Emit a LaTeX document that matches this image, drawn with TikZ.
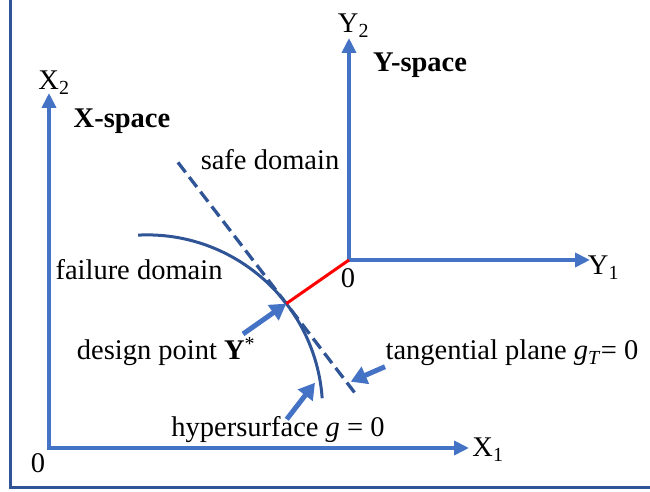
\documentclass[tikz,border=0pt]{standalone}
\usepackage{fontspec}
\setmainfont{Liberation Serif}
\usepackage{xcolor}
\usepackage{tikz}
\usetikzlibrary{positioning,arrows.meta,calc}

\definecolor{axisblue}{HTML}{4472C4}
\definecolor{darkblue}{HTML}{2F5597}

\begin{document}
\begin{tikzpicture}[
  x=1pt, y=1pt,
  txt/.style={font=\fontsize{28.5}{34}\selectfont, inner sep=0pt, anchor=base},
  spacename/.style={txt, font=\fontsize{28.5}{34}\selectfont\bfseries},
  >={Triangle[length=15pt,width=14pt]},
  axis/.style={axisblue, line width=4.5pt, line join=miter, <->},
  pointer/.style={axisblue, line width=5pt, -{Triangle[length=16pt,width=18pt]}},
  surf/.style={darkblue, line width=3pt}
]
  \useasboundingbox (0,0) rectangle (650,492);
  \draw[darkblue, line width=3pt] (10.5,4) rectangle (662,494);

  % X-space axes
  \coordinate (xo)  at (49,44);
  \coordinate (xup) at (49,399);
  \coordinate (xrt) at (469,44);
  \draw[axis] (xup) -- (xo) -- (xrt);
  \node[txt] (xtwo)   at (54,402)  {X\textsubscript{2}};
  \node[txt] (xone)   at (488,35)  {X\textsubscript{1}};
  \node[txt] (xzero)  at (38,19)   {0};
  \node[spacename] (xspace) at (122,364) {X-space};

  % Y-space axes
  \coordinate (yo)  at (349,232);
  \coordinate (yup) at (349,454);
  \coordinate (yrt) at (590,232);
  \draw[axis] (yup) -- (yo) -- (yrt);
  \node[txt] (ytwo)   at (353.5,459) {Y\textsubscript{2}};
  \node[txt] (yone)   at (603.5,217) {Y\textsubscript{1}};
  \node[txt] (yzero)  at (348,204)   {0};
  \node[spacename] (yspace) at (420,420) {Y-space};

  % limit state surface and its tangent
  \coordinate (cc) at (147,81.5);
  \coordinate (fa) at ($(cc)+(92.9:175.6)$);
  \coordinate (dp) at ($(cc)+(37.5:175.6)$);
  \coordinate (tt) at ($(dp)+(127.5:178)$);
  \coordinate (tb) at ($(dp)+(-52.5:112)$);
  \draw[surf] (fa) arc[start angle=92.9, end angle=4, radius=175.6];
  \draw[surf, line width=3.3pt, dash pattern=on 12.5pt off 6pt] (tt) -- (tb);
  \draw[red, line width=3pt] (dp) -- (yo);

  \node[txt] (safe)    at (270,322) {safe domain};
  \node[txt] (failure) at (139,212) {failure domain};
  \node[txt] (design)  at (166,132) {design point \textbf{Y}\textsuperscript{*}};
  \node[txt] (tangent) at (512,132) {tangential plane \textit{g}\textsubscript{\textit{T}}= 0};
  \node[txt] (hyper)   at (278,55)  {hypersurface \textit{g} = 0};

  % pointers
  \coordinate (dptail) at (243,158);
  \coordinate (hstail) at (286.7,72.7);
  \coordinate (hstip)  at (315,109.3);
  \coordinate (tptail) at (385,125.3);
  \coordinate (tptip)  at (350.7,110.3);
  \draw[pointer] (dptail) -- (dp);
  \draw[pointer] (hstail) -- (hstip);
  \draw[pointer] (tptail) -- (tptip);
\end{tikzpicture}
\end{document}
